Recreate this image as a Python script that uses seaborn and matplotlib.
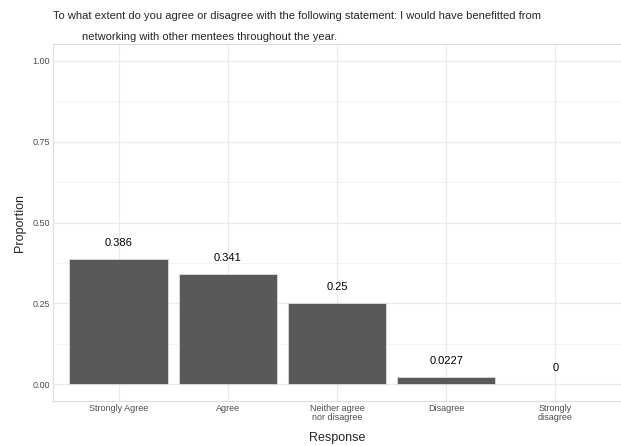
import matplotlib
matplotlib.use("Agg")
import matplotlib.pyplot as plt
import seaborn as sns
import pandas as pd
import numpy as np

categories = ["Strongly Agree", "Agree", "Neither agree\nnor disagree", "Disagree", "Strongly\ndisagree"]
proportions = [0.386, 0.341, 0.25, 0.0227, 0.0]
labels = ["0.386", "0.341", "0.25", "0.0227", "0"]

sns.set_theme(style="white")
plt.rcParams['font.family'] = ['Liberation Sans', 'DejaVu Sans']

df = pd.DataFrame({"Response": categories, "Proportion": proportions})

fig = plt.figure(figsize=(6.21, 4.46), dpi=100)
ax = fig.add_axes([53/621, 1 - 401/446, (621 - 53)/621, (401 - 44)/446])

# grid
for y in [0.125, 0.375, 0.625, 0.875]:
    ax.axhline(y, color="#F2F2F2", lw=0.6, zorder=0)
for y in [0, 0.25, 0.5, 0.75, 1.0]:
    ax.axhline(y, color="#EBEBEB", lw=0.9, zorder=0)
for x in range(len(categories)):
    ax.axvline(x, color="#EBEBEB", lw=0.9, zorder=0)

sns.barplot(data=df, x="Response", y="Proportion", color="#595959", saturation=1,
            width=0.9, edgecolor="#DDDDDD", linewidth=0.6, ax=ax, zorder=2)
for p, v in zip(ax.patches, proportions):
    if v == 0:
        p.set_linewidth(0)

for i, (v, lab) in enumerate(zip(proportions, labels)):
    ax.text(i, v + 0.05, lab, ha="center", va="center", fontsize=8, color="black")

ax.set_ylim(-0.052, 1.052)
ax.set_xlim(-0.6, 4.6)
ax.set_yticks([0, 0.25, 0.5, 0.75, 1.0])
ax.set_yticklabels(["0.00", "0.25", "0.50", "0.75", "1.00"])
ax.tick_params(axis="both", labelsize=6.5, labelcolor="#4D4D4D", length=1.6, color="#CCCCCC", width=0.6, pad=0.5)
ax.set_xticks(range(len(categories)))
ax.set_xticklabels(categories, linespacing=1.0)
ax.set_xlabel("Response", fontsize=9, labelpad=7)
ax.set_ylabel("Proportion", fontsize=9, labelpad=5)

for s in ["left", "bottom", "top"]:
    ax.spines[s].set_color("#DDDDDD")
    ax.spines[s].set_linewidth(0.8)
ax.spines["right"].set_visible(False)

fig.text(53/621, 1 - 16/446, "To what extent do you agree or disagree with the following statement: I would have benefitted from",
         fontsize=8, va="center", ha="left")
fig.text(82/621, 1 - 37/446, "networking with other mentees throughout the year.",
         fontsize=8, va="center", ha="left")

fig.savefig("out.png", dpi=100)
